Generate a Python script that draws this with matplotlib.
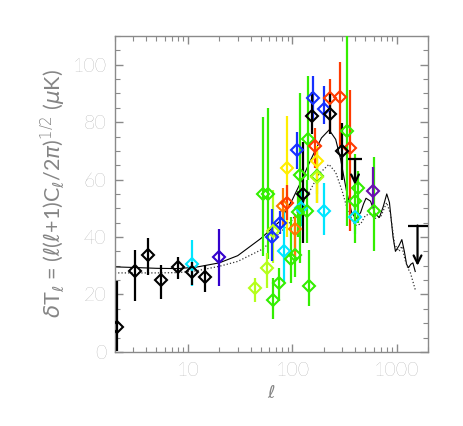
import numpy as np
import matplotlib
matplotlib.use("Agg")
import matplotlib.pyplot as plt
from matplotlib.ticker import MultipleLocator, LogLocator, NullFormatter, FixedLocator, FixedFormatter

# ---- theory curves ----
solid_l = [2, 3, 5, 8, 12, 20, 30, 50, 76, 100, 120, 142, 160, 190, 225, 260, 290,
           330, 370, 406, 450, 480, 507, 560, 620, 681, 740, 801, 850, 890, 920,
           970, 1050, 1117, 1180, 1240, 1292, 1360, 1425, 1500]
solid_t = [29.6, 29.4, 29.1, 29.0, 29.5, 31.0, 33.5, 39.5, 45.5, 53.0, 59.0, 65.0,
           69.0, 74.5, 77.3, 74.0, 67.0, 56.0, 48.5, 46.3, 48.5, 51.5, 53.5, 52.5,
           48.0, 46.8, 50.5, 55.0, 52.0, 45.0, 40.0, 35.0, 37.0, 39.1, 35.0, 30.5,
           29.3, 30.5, 31.0, 28.0]

dot_l = [2, 3, 5, 8, 12, 20, 30, 52, 76, 100, 142, 180, 224, 260, 300, 340, 400,
         450, 500, 550, 620, 700, 800, 870, 950, 1050, 1117, 1200, 1280, 1350, 1500]
dot_t = [27.5, 27.5, 27.5, 27.6, 28.2, 29.8, 31.5, 35.8, 41.4, 46.0, 55.0, 62.0,
         65.3, 62.5, 56.0, 49.0, 44.0, 44.5, 47.5, 48.0, 46.5, 47.0, 52.0, 48.0,
         37.5, 35.0, 36.8, 32.0, 29.0, 27.5, 21.7]

# ---- data points: multipole, dT, lower end, upper end ----
black_l = [2.1, 3.15, 4.13, 5.56, 8.0, 10.9, 14.5, 127, 153, 229, 296]
black_t = [8.6, 28.3, 33.9, 25.2, 29.6, 27.7, 26.1, 55.0, 82.2, 83.0, 70.0]
black_lo = [0.2, 17.7, 26.9, 18.5, 25.4, 23.2, 20.8, 38.0, 75.8, 76.0, 60.0]
black_hi = [24.6, 35.6, 39.8, 30.4, 33.0, 31.4, 30.4, 73.0, 90.6, 90.0, 79.7]

navy_l = [19.7]
navy_t = [33.1]
navy_lo = [23.1]
navy_hi = [42.9]

blue_l = [64, 76, 111, 158, 200]
blue_t = [40.0, 45.0, 70.2, 88.5, 84.7]
blue_lo = [31.5, 41.0, 63.6, 81.0, 79.3]
blue_hi = [49.9, 49.0, 76.4, 96.0, 92.6]

cyan_l = [10.9, 83, 120, 202, 400]
cyan_t = [30.7, 35.0, 50.0, 48.9, 47.0]
cyan_lo = [22.9, 24.2, 44.0, 40.8, 41.0]
cyan_hi = [39.1, 49.5, 57.0, 58.9, 52.0]

green_l = [52.5, 58.6, 65.5, 74.7, 97, 106, 113, 118, 138, 142, 144, 171, 331, 398, 428, 610]
green_t = [55.0, 55.0, 18.0, 24.1, 32.2, 33.9, 48.6, 61.7, 49.2, 74.1, 23.1, 61.4, 77.0, 52.4, 57.0, 48.9]
green_lo = [33.3, 32.2, 11.3, 17.7, 24.0, 26.0, 40.0, 31.0, 38.0, 60.0, 15.9, 52.0, 43.7, 38.0, 45.0, 35.0]
green_hi = [81.9, 85.0, 25.6, 29.3, 47.0, 45.0, 56.0, 90.0, 60.0, 96.0, 35.6, 70.0, 110.0, 69.0, 63.0, 68.0]

ygreen_l = [43.6, 57.8, 65.5, 171]
ygreen_t = [22.1, 29.3, 42.0, 61.0]
ygreen_lo = [17.2, 22.4, 31.1, 55.0]
ygreen_hi = [25.9, 34.6, 56.5, 66.0]

yellow_l = [88, 171]
yellow_t = [64.2, 66.5]
yellow_lo = [40.0, 52.0]
yellow_hi = [82.0, 71.7]

orange_l = [81, 106]
orange_t = [50.7, 42.9]
orange_lo = [44.0, 33.0]
orange_hi = [57.0, 48.0]

red_l = [88, 164, 229, 286, 356]
red_t = [51.8, 71.7, 88.5, 88.7, 71.0]
red_lo = [46.0, 64.0, 76.4, 71.7, 42.0]
red_hi = [58.0, 78.0, 95.0, 101.0, 91.2]

purple_l = [597]
purple_t = [55.9]
purple_lo = [50.0]
purple_hi = [64.5]

# upper limits: multipole, bar value, arrow tip
lim_l = [398, 1578]
lim_top = [67.1, 44.0]
lim_tip = [58.2, 30.0]
lim_cap = [9.5, 15.0]

groups = [
    (cyan_l, cyan_t, cyan_lo, cyan_hi, "#00e5ff"),
    (green_l, green_t, green_lo, green_hi, "#33ee00"),
    (ygreen_l, ygreen_t, ygreen_lo, ygreen_hi, "#b4ff1a"),
    (yellow_l, yellow_t, yellow_lo, yellow_hi, "#ffee00"),
    (orange_l, orange_t, orange_lo, orange_hi, "#ff7a00"),
    (red_l, red_t, red_lo, red_hi, "#ff3a00"),
    (blue_l, blue_t, blue_lo, blue_hi, "#1530ff"),
    (navy_l, navy_t, navy_lo, navy_hi, "#3300cc"),
    (purple_l, purple_t, purple_lo, purple_hi, "#6a11b0"),
    (black_l, black_t, black_lo, black_hi, "#000000"),
]

grey = "#8a8a8a"
txt_grey = "#858585"
plt.rcParams['font.family'] = ['Lato', 'DejaVu Sans']
plt.rcParams['font.weight'] = 'light'

fig = plt.figure(figsize=(4.63, 4.26), dpi=100)
ax = fig.add_axes([0.248, 0.174, 0.677, 0.7415])

ax.plot(solid_l, solid_t, '-', color='black', lw=0.8, zorder=2)
ax.plot(dot_l, dot_t, ':', color='#333333', lw=0.9, zorder=2)

for l, t, lo, hi, col in groups:
    t = np.array(t)
    yerr = [t - np.array(lo), np.array(hi) - t]
    ax.errorbar(l, t, yerr=yerr, fmt='D', mfc='none', mec=col, ecolor=col,
                ms=5.8, mew=1.5, elinewidth=1.6, capsize=0, zorder=3)

for l, top, tip, cap in zip(lim_l, lim_top, lim_tip, lim_cap):
    ax.plot([l], [top], marker='_', ms=cap, mew=1.6, color='black', zorder=4)
    ax.annotate('', xy=(l, tip), xytext=(l, top),
                arrowprops=dict(arrowstyle='->', lw=1.6, color='black',
                                mutation_scale=14, shrinkA=0, shrinkB=0),
                zorder=4)

ax.set_xscale('log')
ax.set_xlim(2, 2000)
ax.set_ylim(0, 110)

ax.xaxis.set_major_locator(FixedLocator([10, 100, 1000]))
ax.xaxis.set_major_formatter(FixedFormatter(['10', '100', '1000']))
ax.xaxis.set_minor_locator(LogLocator(base=10, subs=np.arange(2, 10)))
ax.xaxis.set_minor_formatter(NullFormatter())
ax.yaxis.set_major_locator(MultipleLocator(20))
ax.yaxis.set_minor_locator(MultipleLocator(5))

for s in ax.spines.values():
    s.set_color(grey)
    s.set_linewidth(1.0)

ax.tick_params(which='both', direction='in', top=True, right=True, color=grey,
               labelcolor=txt_grey, labelsize=14)
ax.tick_params(which='major', length=6, width=1)
ax.tick_params(which='minor', length=3.5, width=0.8)
ax.tick_params(axis='x', pad=7)
ax.tick_params(axis='y', pad=6)

ax.set_xlabel(r'$\ell$', fontsize=13, color=txt_grey, labelpad=3)
ax.set_ylabel(r'$\delta$T$_\ell$ = ($\ell$($\ell$+1)C$_\ell$/2$\pi$)$^{1/2}$ ($\mu$K)',
              fontsize=15.5, color=txt_grey, labelpad=4)

fig.savefig('out.png', dpi=100)
